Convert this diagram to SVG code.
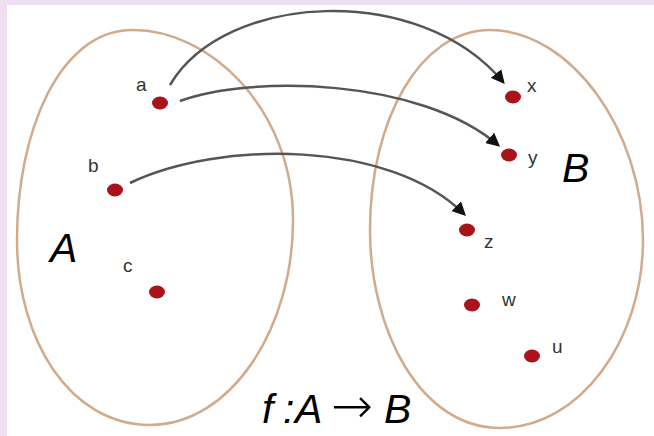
<svg xmlns="http://www.w3.org/2000/svg" width="654" height="436" viewBox="0 0 654 436">
<defs>
<style>
.set{fill:none;stroke:#D3AA8A;stroke-width:2.5;}
.dot{fill:#A8141A;}
.lbl{font-family:"Liberation Sans",Arial,sans-serif;font-size:19px;fill:#333;}
.big{font-family:"Liberation Sans",Arial,sans-serif;font-size:41px;font-style:italic;fill:#000;}
.arrow-glyph{font-family:"DejaVu Sans",sans-serif;font-size:50px;font-style:normal;font-weight:200;}
.arr{fill:none;stroke:#555;stroke-width:2.5;marker-end:url(#ah);}
</style>
<marker id="ah" viewBox="0 0 10 10" refX="8" refY="5" markerWidth="5.5" markerHeight="5.5" orient="auto" markerUnits="strokeWidth">
<path d="M0,0 L10,5 L0,10 z" fill="#111"/>
</marker>
</defs>
<rect x="0" y="0" width="654" height="436" fill="#EEE0F2"/>
<rect x="7" y="5" width="647" height="431" fill="#FFFFFF"/>
<g id="setA">
<path class="set" d="M130,30 C210,28 293,110 293,220 C293,330 230,425 150,425 C70,425 17,340 17,240 C17,130 60,32 130,30 Z"/>
<text class="big" x="50" y="262">A</text>
</g>
<g id="setB">
<path class="set" d="M490,30 C570,30 643,130 643,240 C643,340 580,428 500,428 C420,428 370,330 370,230 C370,120 420,30 490,30 Z"/>
<text class="big" x="562" y="182">B</text>
</g>
<g id="node-a"><ellipse class="dot" cx="160" cy="103" rx="8" ry="6.5"/><text class="lbl" x="136" y="91">a</text></g>
<g id="node-b"><ellipse class="dot" cx="115" cy="190" rx="8" ry="6.5"/><text class="lbl" x="88" y="172">b</text></g>
<g id="node-c"><ellipse class="dot" cx="157" cy="292" rx="8" ry="6.5"/><text class="lbl" x="123" y="272">c</text></g>
<g id="node-x"><ellipse class="dot" cx="513" cy="97" rx="8" ry="6.5"/><text class="lbl" x="527" y="92">x</text></g>
<g id="node-y"><ellipse class="dot" cx="509" cy="155" rx="8" ry="6.5"/><text class="lbl" x="528" y="164">y</text></g>
<g id="node-z"><ellipse class="dot" cx="467" cy="230" rx="8" ry="6.5"/><text class="lbl" x="484" y="248">z</text></g>
<g id="node-w"><ellipse class="dot" cx="472" cy="305" rx="8" ry="6.5"/><text class="lbl" x="502" y="306">w</text></g>
<g id="node-u"><ellipse class="dot" cx="532" cy="356" rx="8" ry="6.5"/><text class="lbl" x="552" y="353">u</text></g>
<g id="connectors">
<path class="arr" d="M170,85 C225,-8 420,-18 503,82"/>
<path class="arr" d="M180,101 C250,75 420,78 498,145"/>
<path class="arr" d="M130,183 C220,140 390,140 464,214"/>
</g>
<text class="big" y="423"><tspan x="262">f</tspan><tspan x="283">:</tspan><tspan x="295">A</tspan><tspan class="arrow-glyph" x="331">→</tspan><tspan x="384">B</tspan></text>
</svg>
